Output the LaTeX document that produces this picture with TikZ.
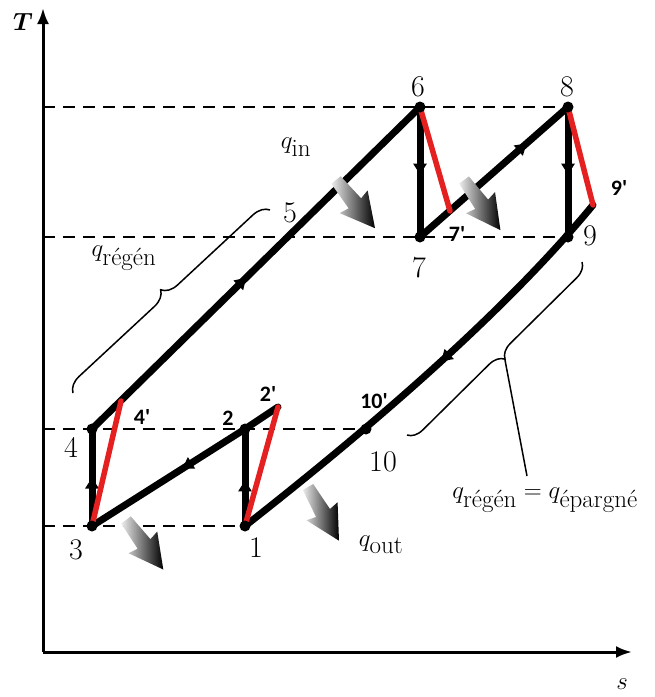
\documentclass[tikz,border=0pt]{standalone}
\usepackage{amsmath}
\usepackage{fontspec}
\newfontfamily\primefont{Carlito}
\DeclareMathSizes{32}{32}{25}{20}
\DeclareMathSizes{30}{30}{23}{18}
\usetikzlibrary{decorations.pathreplacing,decorations.markings,arrows.meta}
\definecolor{cycred}{RGB}{228,32,32}
\tikzset{
  cyc/.style={line width=7pt, line cap=round, line join=round},
  regen/.style={line width=5.5pt, cycred, line cap=round},
  guide/.style={line width=2.2pt, dash pattern=on 12pt off 8pt},
  axisline/.style={line width=3pt, -{Latex[length=16pt,width=12pt]}},
  midarrow/.style={postaction={decorate}, decoration={markings, mark=at position #1 with {\arrow{Triangle[length=11pt,width=13pt]}}}},
  lbl/.style={font=\fontsize{30}{34}\selectfont, inner sep=0pt},
  qlbl/.style={font=\fontsize{32}{36}\selectfont, inner sep=0pt},
  plbl/.style={font=\primefont\bfseries\fontsize{22}{26}\selectfont, inner sep=0pt},
  ptdot/.style={circle, fill=black, inner sep=0pt, minimum size=11pt},
  bracepath/.style={line width=1.5pt, decorate, decoration={brace, amplitude=#1}},
  garrow/.pic={\shade[left color=gray!15, right color=black] (0,-6) -- (30,-8) -- (28,-18) -- (62,0) -- (28,18) -- (30,8) -- (0,6) -- cycle;}
}
\begin{document}
\begin{tikzpicture}[x=1pt,y=-1pt]
\useasboundingbox (0,0) rectangle (655,697);
% axes
\coordinate (o) at (43,652);
\coordinate (ytop) at (43,8);
\coordinate (xend) at (632,652);
\draw[axisline] (o) -- (ytop);
\draw[axisline] (o) -- (xend);
\node[lbl, font=\fontsize{32}{36}\selectfont] (T) at (23,22) {$\boldsymbol{T}$};
\node[lbl, font=\fontsize{24}{28}\selectfont] (s) at (622,684) {$s$};
% state points
\coordinate (p1) at (245,526);
\coordinate (p2) at (245,429);
\coordinate (p2p) at (278,407);
\coordinate (p3) at (92,526);
\coordinate (p4) at (92,429);
\coordinate (p4p) at (121,401);
\coordinate (p5) at (290,237);
\coordinate (p6) at (420,107);
\coordinate (p7) at (420,237);
\coordinate (p7p) at (450,211);
\coordinate (p8) at (568,107);
\coordinate (p9) at (568,237);
\coordinate (p9p) at (593,205);
\coordinate (p10) at (366,429);
\coordinate (c1) at (519,295);
\coordinate (c2) at (403,402);
% dashed guides
\coordinate (a6) at (43,107);
\coordinate (a7) at (43,237);
\coordinate (a4) at (43,429);
\coordinate (a3) at (43,526);
\draw[guide] (a6) -- (p8);
\draw[guide] (a7) -- (p9);
\draw[guide] (a4) -- (p10);
\draw[guide] (a3) -- (p1);
% cycle
\draw[cyc, midarrow=0.5] (p3) -- (p4);
\draw[cyc, midarrow=0.47] (p4) -- (p6);
\draw[cyc, midarrow=0.52] (p6) -- (p7);
\draw[cyc, midarrow=0.72] (p7) -- (p8);
\draw[cyc, midarrow=0.52] (p8) -- (p9);
\draw[cyc, midarrow=0.47] (p1) -- (p2);
\draw[cyc] (p2p) -- (p2);
\draw[cyc, midarrow=0.41] (p2) -- (p3);
\draw[cyc, midarrow=0.46] (p9p) .. controls (c1) and (c2) .. (p1);
% red lines
\draw[regen] (p3) -- (p4p);
\draw[regen] (p1) -- (p2p);
\draw[regen] (p6) -- (p7p);
\draw[regen] (p8) -- (p9p);
% dots
\foreach \p in {p1,p2,p3,p4,p6,p7,p8,p9,p10}
  \node[ptdot] (d\p) at (\p) {};
% heat arrows
\pic[rotate=-51] (g1) at (336,180) {garrow};
\pic[rotate=-54] (g2) at (464,180) {garrow};
\pic[rotate=-60] (g3) at (308,487) {garrow};
\pic[rotate=-53] (g4) at (126,520) {garrow};
% braces
\coordinate (lb1) at (73,393);
\coordinate (lb2) at (270,210);
\draw[bracepath=16pt] (lb1) -- (lb2);
\coordinate (rb1) at (582,262);
\coordinate (rb2) at (407,435);
\draw[bracepath=15pt] (rb1) -- (rb2);
\coordinate (rtip) at (505,360);
\coordinate (rend) at (527,476);
\draw[line width=1.5pt] (rtip) -- (rend);
% labels
\node[lbl] (l6) at (418,87) {6};
\node[lbl] (l8) at (567,87) {8};
\node[lbl] (l7) at (419,268) {7};
\node[lbl] (l9) at (590,236) {9};
\node[lbl] (l5) at (290,213) {5};
\node[lbl] (l4) at (71,447) {4};
\node[lbl] (l3) at (76,550) {3};
\node[lbl] (l1) at (256,548) {1};
\node[lbl] (l10) at (383,462) {10};
\node[plbl] (l2) at (228,418) {2};
\node[plbl] (l4p) at (142,417) {4'};
\node[plbl] (l2p) at (268,394) {2'};
\node[plbl] (l10p) at (374,401) {10'};
\node[plbl] (l7p) at (457,234) {7'};
\node[plbl] (l9p) at (619,188) {9'};
\node[qlbl] (qin) at (296,147) {$q_{\text{in}}$};
\node[qlbl] (qout) at (381,545) {$q_{\text{out}}$};
\node[qlbl] (qreg) at (124,258) {$q_{\text{régén}}$};
\node[qlbl] (qeq) at (545,500) {$q_{\text{régén}} = q_{\text{épargné}}$};
\end{tikzpicture}
\end{document}
